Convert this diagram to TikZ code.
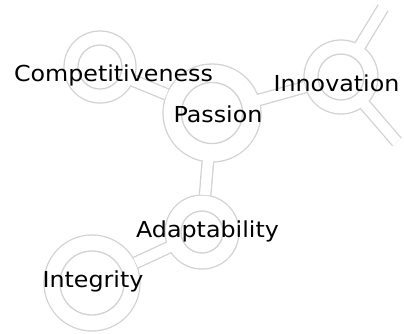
\documentclass[tikz,border=0pt]{standalone}
\usepackage{fontspec}
\setmainfont{DejaVu Sans}[FakeStretch=1.08]
\definecolor{ringgray}{HTML}{D2D2D2}
\tikzset{
  ring/.style={circle, inner sep=0pt, minimum size=#1},
  tubeout/.style={draw=ringgray, line width=12.8pt, line cap=butt},
  tubein/.style={draw=white, line width=10.2pt, line cap=butt},
  innerring/.style={draw=ringgray, line width=1.3pt},
  lbl/.style={inner sep=0pt, anchor=base, font=\fontsize{22}{26}\selectfont, text=black}
}
\begin{document}
\begin{tikzpicture}[x=1pt,y=-1pt]
\useasboundingbox (0,0) rectangle (404,333);
% ring centres
\node[ring=72pt]  (comp)  at (100,67)  {};
\node[ring=98pt]  (pass)  at (212,113) {};
\node[ring=74pt]  (innov) at (341,77)  {};
\node[ring=74pt]  (adapt) at (202,232) {};
\node[ring=96pt]  (integ) at (92,283)  {};
\coordinate (e1) at (383,8);
\coordinate (e2) at (397,142);
% outer gray shapes
\foreach \a/\b in {comp/pass, pass/innov, pass/adapt, adapt/integ, innov/e1, innov/e2}
  \draw[tubeout] (\a.center) -- (\b);
\foreach \n/\r in {comp/36, pass/49, innov/37, adapt/37, integ/48}
  \fill[ringgray] (\n.center) circle[radius=\r+0.65];
% white interior
\foreach \a/\b in {comp/pass, pass/innov, pass/adapt, adapt/integ, innov/e1, innov/e2}
  \draw[tubein] (\a.center) -- (\b);
\foreach \n/\r in {comp/36, pass/49, innov/37, adapt/37, integ/48}
  \fill[white] (\n.center) circle[radius=\r-0.65];
% inner rings
\foreach \n/\r in {comp/22, pass/30.5, innov/23, adapt/21, integ/32}
  \draw[innerring] (\n.center) circle[radius=\r];
% labels
\node[lbl] (tcomp)  at (113.5,81) {Competitiveness};
\node[lbl] (tpass)  at (218,122)  {Passion};
\node[lbl] (tinnov) at (336.5,91) {Innovation};
\node[lbl] (tadapt) at (207.5,237) {Adaptability};
\node[lbl] (tinteg) at (93,287)   {Integrity};
\end{tikzpicture}
\end{document}
